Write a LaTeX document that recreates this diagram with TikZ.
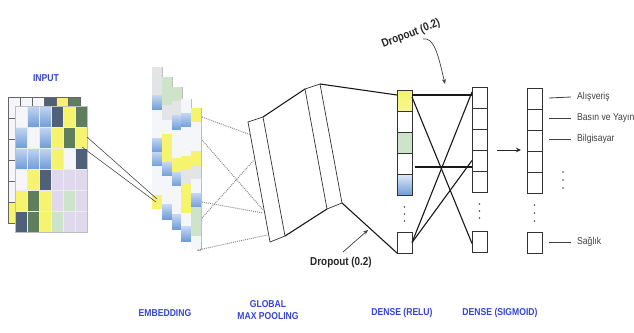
\documentclass[tikz,border=0pt]{standalone}
\usepackage{fontspec}
\setmainfont{Liberation Sans}
\newfontfamily\narrowsans[FakeStretch=0.86]{Liberation Sans}
\usetikzlibrary{arrows.meta}

\definecolor{cyel}{RGB}{246,243,110}
\definecolor{cslate}{RGB}{80,96,120}
\definecolor{cdgreen}{RGB}{94,126,94}
\definecolor{cblueT}{RGB}{196,214,242}
\definecolor{cblueB}{RGB}{112,156,216}
\definecolor{clav}{RGB}{224,216,236}
\definecolor{clgreen}{RGB}{206,228,202}
\definecolor{cwhite}{RGB}{245,246,250}
\definecolor{clgray}{RGB}{226,228,230}
\definecolor{lblue}{RGB}{52,68,214}

\tikzset{
  cW/.style={fill=cwhite},
  cB/.style={top color=cblueT, bottom color=cblueB},
  cS/.style={fill=cslate},
  cY/.style={fill=cyel},
  cG/.style={fill=cdgreen},
  cL/.style={fill=clav},
  cM/.style={fill=clgreen},
  cK/.style={fill=clgray},
}

\begin{document}
\begin{tikzpicture}[x=1pt,y=-1pt,
  cellbox/.style={draw=black!80, line width=0.7pt, fill=white, minimum width=15pt,
    minimum height=21pt, inner sep=0pt, outer sep=0pt, anchor=north west},
  link/.style={line width=1.1pt, black!90},
  fine link/.style={line width=0.6pt, black!70},
  dotlink/.style={densely dotted, line width=1pt, black!45},
  slab/.style={draw=black!80, line width=0.7pt, fill=white},
  lbl/.style={font=\narrowsans\bfseries\fontsize{10}{12}\selectfont, text=lblue, align=center},
  outlbl/.style={font=\narrowsans\fontsize{10}{11}\selectfont, anchor=west, text=black!75, inner sep=2pt},
  droplbl/.style={font=\narrowsans\bfseries\fontsize{11.5}{12}\selectfont, text=black!85},
  vdot/.style={fill=black!70},
]
\useasboundingbox (0,0) rectangle (634,332);

% ---------- input matrix (two stacked layers) ----------
\foreach \row [count=\r from 0] in {{W,W,W,S,Y,G},{W,B,B,S,Y,G},{W,W,B,Y,G,Y},
                                     {W,B,B,Y,W,S},{W,Y,S,L,L,L},{Y,G,Y,L,M,L}} {
  \foreach \c [count=\k from 0] in \row {
    \path[c\c, draw=black!60, line width=0.5pt] (8+12*\k,97+21*\r) rectangle ++(12,21);
  }
}
\foreach \row [count=\r from 0] in {{W,B,B,S,Y,G},{B,W,B,Y,G,Y},{B,B,B,Y,W,S},
                                     {W,Y,S,L,L,L},{Y,G,Y,L,M,L},{S,G,Y,M,L,L}} {
  \foreach \c [count=\k from 0] in \row {
    \path[c\c, draw=white!85!gray, line width=0.5pt] (15+12*\k,106+21*\r) rectangle ++(12,21);
  }
}
\draw[black!25, line width=0.5pt] (15,106) rectangle (87,232);
\node[lbl] (inputlbl) at (46,78) {INPUT};

% ---------- embedding strips ----------
\foreach \sx/\sy/\cols in {152/67/{K,K,B,W,W,B,B,W,W,Y},
                           162/77/{M,M,K,W,Y,Y,B,W,W,B},
                           172/87/{M,K,B,W,W,Y,B,W,W,B},
                           181/99/{W,B,W,W,Y,K,Y,Y,W,B},
                           191/108/{Y,W,W,Y,K,W,B,M,M,W}} {
  \foreach \c [count=\k from 0] in \cols {
    \path[c\c] (\sx,\sy+14.2*\k) rectangle ++(10,14.2);
  }
  \draw[black!25, line width=0.8pt] (\sx+10,\sy) -- (\sx+10,\sy+142);
}
\draw[black!30, line width=0.8pt] (201,250) -- (201,242) (197,250) -- (201,250);

% input -> embedding
\coordinate (inA) at (87,137);
\coordinate (inB) at (82,147);
\coordinate (embA) at (157,199);
\coordinate (embB) at (156,202);
\draw[fine link] (inA) -- (embA);
\draw[fine link] (inB) -- (embB);

% ---------- global max pooling slabs ----------
\coordinate (LA) at (248,122); \coordinate (LB) at (263,117);
\coordinate (LC) at (285,236); \coordinate (LD) at (270,242);
\coordinate (RA) at (305,89);  \coordinate (RB) at (320,84);
\coordinate (RC) at (342,203); \coordinate (RD) at (327,209);
\draw[slab] (LA) -- (LB) -- (LC) -- (LD) -- cycle;
\draw[slab] (RA) -- (RB) -- (RC) -- (RD) -- cycle;
\draw[link] (LB) -- (RA);
\draw[link] (LC) -- (RD);

% embedding -> pooling (dotted)
\coordinate (e1) at (202,117); \coordinate (p1) at (251,135);
\coordinate (e2) at (202,140); \coordinate (p2) at (264,211);
\coordinate (e3) at (202,202); \coordinate (p3) at (263,213);
\coordinate (e4) at (202,218); \coordinate (p4) at (254,160);
\coordinate (e5) at (198,250); \coordinate (p5) at (267,235);
\foreach \i in {1,...,5} { \draw[dotlink] (e\i) -- (p\i); }

% ---------- dense (relu) ----------
\node[cellbox, top color=cyel, bottom color=cyel!75!white] (r1) at (397,90) {};
\node[cellbox] (r2) at (397,111) {};
\node[cellbox, fill=clgreen] (r3) at (397,132) {};
\node[cellbox] (r4) at (397,153) {};
\node[cellbox, top color=cblueT!50!white, bottom color=cblueB] (r5) at (397,174) {};
\node[cellbox] (rb) at (397,232) {};
\foreach \y in {207,214,221} \fill[vdot] (404.5,\y) circle (0.9);

% ---------- dense (sigmoid) ----------
\node[cellbox] (s1) at (472,87) {};
\node[cellbox] (s2) at (472,108) {};
\node[cellbox] (s3) at (472,129) {};
\node[cellbox] (s4) at (472,150) {};
\node[cellbox] (s5) at (472,171) {};
\node[cellbox] (sb) at (472,231) {};
\foreach \y in {204,211,218} \fill[vdot] (479.5,\y) circle (0.9);

% pooling -> relu
\draw[link] (RB) -- ([yshift=5.5pt]r1.west);
\draw[link] (RC) -- (rb.south west);

% relu -> sigmoid
\draw[link] ([yshift=5.5pt]r1.east) -- ([yshift=2.5pt]s1.west);
\draw[link] ([yshift=3.5pt]r1.east) -- ([yshift=-2pt]sb.west);
\draw[link] (rb.east) -- ([yshift=-5pt]s1.north west);
\draw[link] (rb.east) -- (s4.west);
\draw[link] ([xshift=3pt,yshift=-3.5pt]r4.east) -- ([yshift=-6.5pt]s4.west);

% ---------- output ----------
\node[cellbox] (o1) at (527,88) {};
\node[cellbox] (o2) at (527,109) {};
\node[cellbox] (o3) at (527,130) {};
\node[cellbox] (o4) at (527,151) {};
\node[cellbox] (o5) at (527,172) {};
\node[cellbox] (ob) at (527,232) {};
\foreach \y in {205,213,221} \fill[vdot] (534.5,\y) circle (0.9);

\coordinate (sigout) at (497,150);
\coordinate (outin) at (521,150);
\draw[line width=0.8pt, black!85, -{Stealth[length=5pt,width=4.5pt]}] (sigout) -- (outin);

\node[outlbl] (l1) at (575,97) {Alışveriş};
\node[outlbl] (l2) at (575,118) {Basın ve Yayın};
\node[outlbl] (l3) at (575,139) {Bilgisayar};
\node[outlbl] (l4) at (575,242) {Sağlık};
\draw[line width=0.8pt, black!75] ([xshift=7pt,yshift=0.5pt]o1.east) -- ([xshift=-4pt]l1.west);
\draw[line width=0.8pt, black!75] ([xshift=7pt,yshift=1.5pt]o2.east) -- ([xshift=-4pt]l2.west);
\draw[line width=0.8pt, black!75] ([xshift=7pt,yshift=1.5pt]o3.east) -- ([xshift=-4pt]l3.west);
\draw[line width=0.8pt, black!75] ([xshift=7pt,yshift=0.5pt]ob.east) -- ([xshift=-4pt]l4.west);
\foreach \y in {172,180,188} \fill[vdot] (563,\y) circle (0.9);

% ---------- dropout labels ----------
\node[droplbl, rotate=21, inner sep=1pt] (dropA) at (411,34) {Dropout (0.2)};
\coordinate (dA1) at (423,39);
\coordinate (dA2) at (445,84);
\draw[line width=0.7pt, black!75, -{Stealth[length=5pt,width=4pt]}]
  (dA1) .. controls (434,37) and (438,54) .. (dA2);

\node[droplbl] (dropB) at (341,263) {Dropout (0.2)};
\coordinate (dB1) at (343,252);
\coordinate (dB2) at (368,230);
\draw[line width=0.7pt, black!75, -{Stealth[length=5pt,width=4pt]}] (dB1) -- (dB2);

% ---------- layer captions ----------
\node[lbl] (emblbl) at (165,313) {EMBEDDING};
\node[lbl] (poollbl) at (268,310) {GLOBAL\\MAX POOLING};
\node[lbl] (relulbl) at (402,313) {DENSE (RELU)};
\node[lbl] (sigmlbl) at (500,313) {DENSE (SIGMOID)};
\end{tikzpicture}
\end{document}
